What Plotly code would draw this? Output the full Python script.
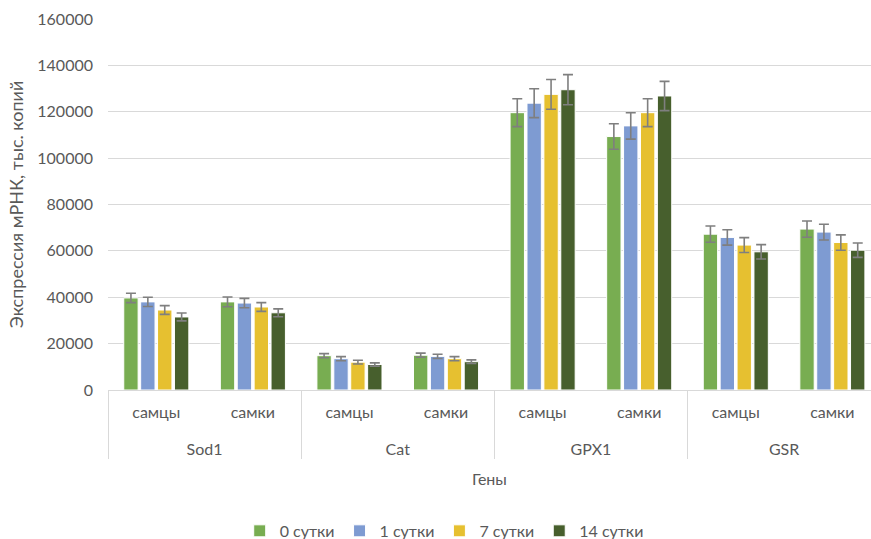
import plotly.graph_objects as go

# Category levels: gene (outer) and sex (inner)
genes = ["Sod1", "Sod1", "Cat", "Cat", "GPX1", "GPX1", "GSR", "GSR"]
sexes = ["самцы", "самки", "самцы", "самки", "самцы", "самки", "самцы", "самки"]

series_names = ["0 сутки", "1 сутки", "7 сутки", "14 сутки"]

# Expression values, thousands of copies
day0 = [39700, 38000, 14800, 15000, 119600, 109300, 67200, 69400]
day1 = [38000, 37500, 13500, 14500, 123700, 113900, 65800, 68100]
day7 = [34500, 35800, 12000, 13500, 127500, 119600, 62500, 63600]
day14 = [31500, 33300, 11000, 12200, 129500, 126800, 59600, 60300]

# Error values (+/-)
day0_err = [2000, 2100, 900, 900, 6000, 5500, 3500, 3500]
day1_err = [2000, 2000, 900, 900, 6250, 5700, 3300, 3400]
day7_err = [1900, 1900, 800, 900, 6400, 6000, 3200, 3300]
day14_err = [1700, 1700, 700, 800, 6500, 6300, 3100, 3100]

values = [day0, day1, day7, day14]
errors = [day0_err, day1_err, day7_err, day14_err]
colors = ["#78AD51", "#7E9BD2", "#E6C030", "#475F2D"]

TEXT = "#595959"
GRID = "#D9D9D9"
FONT = "Lato"

# a spacer line under the sex labels pushes the gene row lower
SPACER = "<span style='font-size:26px'>\u00a0</span>"
sex_labels = [s + "<br>" + SPACER for s in sexes]

fig = go.Figure()
for name, vals, errs, col in zip(series_names, values, errors, colors):
    fig.add_trace(go.Bar(
        name=name,
        x=[genes, sex_labels],
        y=vals,
        marker=dict(color=col, line=dict(color="white", width=1)),
        error_y=dict(type="data", array=errs, visible=True,
                     color="#7F7F7F", thickness=1.6, width=5),
    ))

fig.update_layout(
    width=871,
    height=539,
    margin=dict(l=108, r=0, t=19, b=149, autoexpand=False),
    paper_bgcolor="white",
    plot_bgcolor="white",
    barmode="group",
    bargap=0.3,
    bargroupgap=0.15,
    font=dict(family=FONT, size=16, color=TEXT),
    legend=dict(
        orientation="h",
        xref="container", x=0.51, xanchor="center",
        yref="container", y=0.015, yanchor="middle",
        font=dict(size=16, color=TEXT),
        traceorder="normal",
    ),
)

fig.update_yaxes(
    automargin=False,
    range=[0, 160000],
    dtick=20000,
    showgrid=True,
    gridcolor=GRID,
    gridwidth=1,
    zeroline=False,
    showline=False,
    ticks="",
    ticklabelstandoff=14,
    tickformat="d",
    tickfont=dict(size=16, color=TEXT),
    title=dict(text="Экспрессия мРНК, тыс. копий",
               font=dict(size=18, color=TEXT), standoff=9),
)

fig.update_xaxes(
    automargin=False,
    type="multicategory",
    range=[-0.5, 7.4],
    showline=True,
    linecolor=GRID,
    linewidth=1,
    showdividers=True,
    dividercolor=GRID,
    dividerwidth=1,
    ticks="",
    ticklabelstandoff=8,
    tickfont=dict(size=16, color=TEXT),
    title=dict(text="Гены", font=dict(size=16, color=TEXT), standoff=16),
)

fig.write_html("out.html")
